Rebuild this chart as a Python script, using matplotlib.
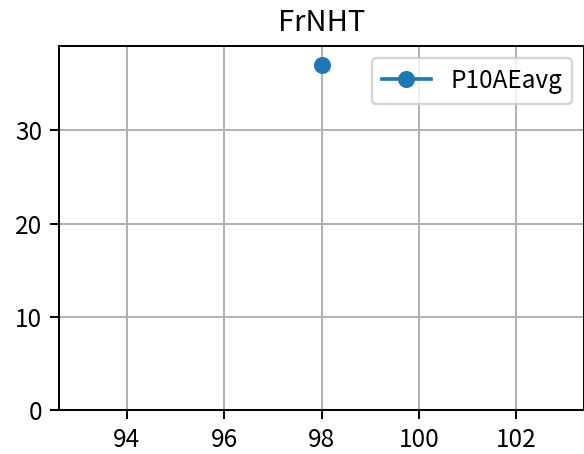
import matplotlib
matplotlib.use("Agg")
import matplotlib.pyplot as plt

plt.rcParams['font.family'] = ['Noto Sans CJK JP', 'DejaVu Sans']

x_vals = [98]
y_vals = [37]
series_label = "P10AEavg"
title = "FrNHT"

DPI = 175
fig = plt.figure(figsize=(584/DPI, 454/DPI), dpi=DPI)
ax = fig.add_axes([59/584, 44/454, 525/584, 364/454])
ax.plot(x_vals, y_vals, marker='o', color='#1f77b4', label=series_label)
ax.set_ylim(bottom=0)
ax.grid(True)
ax.set_title(title)
ax.legend(loc='upper right')
fig.savefig("out.png", dpi=DPI)
